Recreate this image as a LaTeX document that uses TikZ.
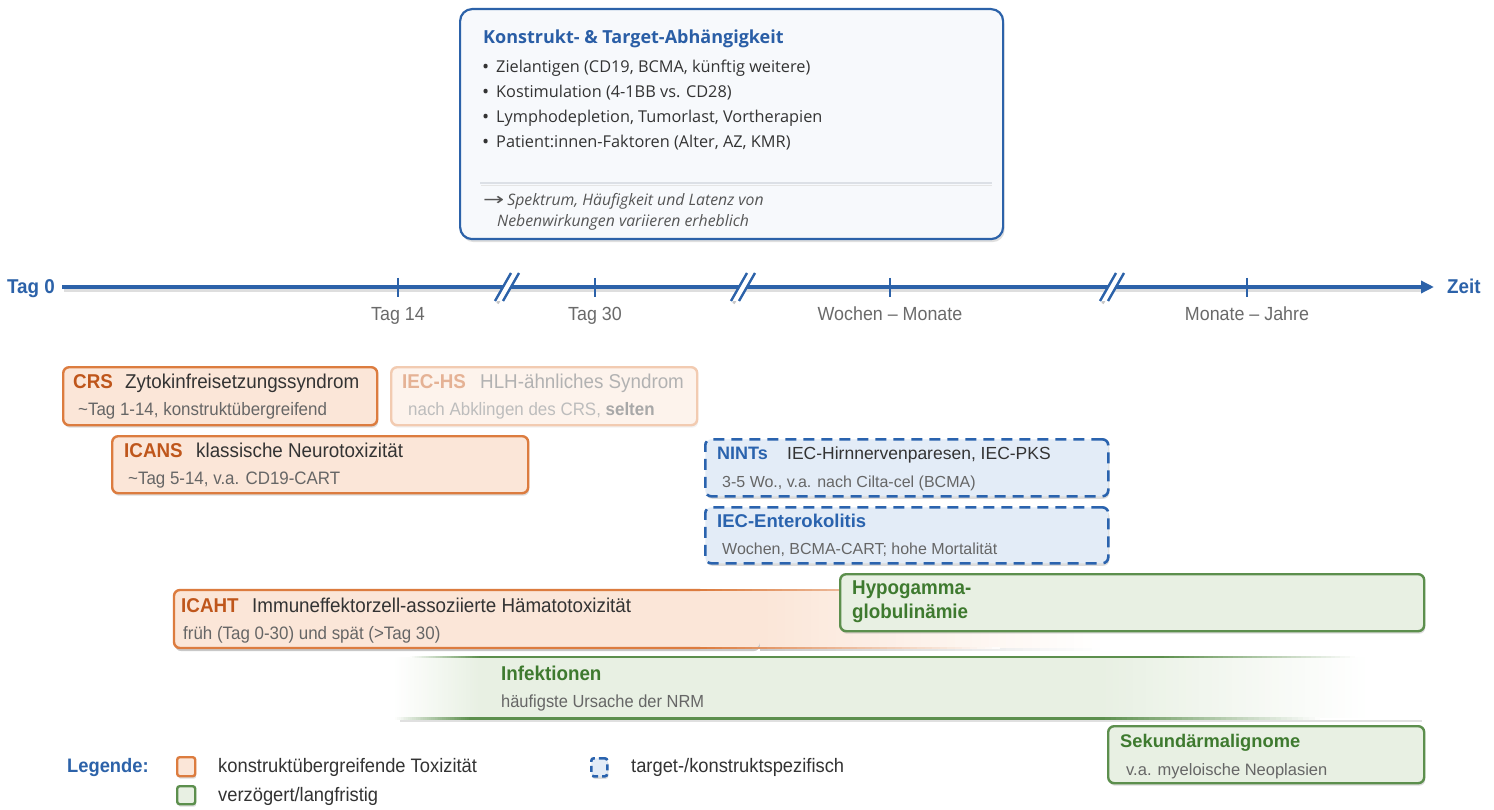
\documentclass[tikz,border=0pt]{standalone}
\usepackage{fontspec}
\setmainfont{Liberation Sans}
\newfontfamily\cond[FakeStretch=0.94]{Liberation Sans}
\newfontfamily\osans{Open Sans}
\newfontfamily\dejavu{DejaVu Sans}
\usetikzlibrary{shadows,arrows.meta}
\definecolor{tlblue}{HTML}{2C62A9}
\definecolor{ttlblue}{HTML}{2A5EA6}
\definecolor{topfill}{HTML}{F7F9FC}
\definecolor{sepgray}{HTML}{DCE0E6}
\definecolor{orbord}{HTML}{DC7C3F}
\definecolor{orfill}{HTML}{FBE6D8}
\definecolor{ortxt}{HTML}{BF561B}
\definecolor{grbord}{HTML}{5C8F4D}
\definecolor{grfill}{HTML}{E8F0E3}
\definecolor{grtxt}{HTML}{3E7A2F}
\definecolor{blbord}{HTML}{2A63AE}
\definecolor{blfill}{HTML}{E3ECF7}
\definecolor{dtxt}{HTML}{333333}
\definecolor{stxt}{HTML}{666666}
\definecolor{tltxt}{HTML}{6A6A6A}
\definecolor{itxt}{HTML}{555555}
\definecolor{hsbord}{HTML}{F2CBB1}
\definecolor{hsfill}{HTML}{FDF3EC}
\definecolor{hstitle}{HTML}{E5B295}
\definecolor{hstxt}{HTML}{B2B2B2}
\definecolor{hssub}{HTML}{BDBDBD}
\definecolor{hsbold}{HTML}{A8A8A8}
\definecolor{shgray}{HTML}{C8C8C8}
\newcommand\setfs[1]{\fontsize{#1}{#1}\selectfont}
% horizontal fade out: colour #1 at x=#2 to white at x=#3, between y=#4 and y=#5
\newcommand\hfadeout[5]{\foreach \k in {0,...,39}{%
  \pgfmathtruncatemacro\pc{100-2.5*\k}%
  \fill[#1!\pc!white] ({#2+(#3-#2)*\k/40},#4) rectangle ({#2+(#3-#2)*(\k+1)/40+0.4},#5);}}
% horizontal fade in: white at x=#2 to colour #1 at x=#3
\newcommand\hfadein[5]{\foreach \k in {0,...,39}{%
  \pgfmathtruncatemacro\pc{2.5*(\k+1)}%
  \fill[#1!\pc!white] ({#2+(#3-#2)*\k/40},#4) rectangle ({#2+(#3-#2)*(\k+1)/40+0.4},#5);}}
\begin{document}
\begin{tikzpicture}[x=1pt,y=-1pt,
  txt/.style={inner sep=0pt, anchor=base west},
  shd/.style={drop shadow={opacity=0.28, shadow xshift=1pt, shadow yshift=-2.5pt}},
  boxbase/.style={anchor=north west, inner sep=0pt, rounded corners=6pt},
  obox/.style={boxbase, shd, draw=orbord, fill=orfill, line width=2.4pt},
  gbox/.style={boxbase, shd, draw=grbord, fill=grfill, line width=2.4pt},
  bbox/.style={boxbase, shd, draw=blbord, fill=blfill, line width=2.6pt, dash pattern=on 11pt off 7pt},
  otitle/.style={txt, font=\cond\bfseries\setfs{20}, text=ortxt},
  omain/.style={txt, font=\cond\setfs{20}, text=dtxt},
  osub/.style={txt, font=\cond\setfs{18}, text=stxt},
  ktext/.style={txt, font=\osans\setfs{16.3}, text=dtxt},
  kbul/.style={txt, font=\osans\setfs{19}, text=dtxt},
  tick/.style={tlblue, line width=2pt},
  tlabel/.style={anchor=base, inner sep=0pt, font=\cond\setfs{19}, text=tltxt},
  legtxt/.style={txt, font=\cond\setfs{19.5}, text=dtxt}
]
\useasboundingbox (0,0) rectangle (1494,810);
\fill[white] (0,0) rectangle (1494,810);

% ---------- top box ----------
\node[boxbase, rounded corners=12pt, draw=tlblue, fill=topfill, line width=2.2pt,
      drop shadow={opacity=0.25, shadow xshift=1.5pt, shadow yshift=-3pt},
      minimum width=543pt, minimum height=230pt] (kbox) at (459,8) {};
\node[txt, font=\osans\bfseries\setfs{18}, text=ttlblue] (ktitle) at (483,44) {Konstrukt- \& Target-Abhängigkeit};
\node[kbul] (kb1) at (482,74) {•};
\node[ktext] (kt1) at (496,73) {Zielantigen (CD19, BCMA, künftig weitere)};
\node[kbul] (kb2) at (482,99) {•};
\node[ktext] (kt2) at (496,98) {Kostimulation (4-1BB vs. CD28)};
\node[kbul] (kb3) at (482,124) {•};
\node[ktext] (kt3) at (496,123) {Lymphodepletion, Tumorlast, Vortherapien};
\node[kbul] (kb4) at (482,149) {•};
\node[ktext] (kt4) at (496,148) {Patient:innen-Faktoren (Alter, AZ, KMR)};
\draw[black!10, line width=1.2pt] (481,185.8) -- (992,185.8);
\draw[sepgray, line width=2.5pt] (480,183) -- (992,183);
\node[txt, font=\osans\itshape\setfs{15.8}, text=itxt] (ki1) at (483,206) {\scalebox{1.6}[1.1]{\dejavu\upshape →}\kern3pt Spektrum, Häufigkeit und Latenz von};
\node[txt, font=\osans\itshape\setfs{15.8}, text=itxt] (ki2) at (497,227) {Nebenwirkungen variieren erheblich};

% ---------- timeline ----------
\node[anchor=base east, inner sep=0pt, font=\cond\bfseries\setfs{20}, text=tlblue] (tag0) at (55,294) {Tag 0};
\node[anchor=base west, inner sep=0pt, font=\cond\bfseries\setfs{20}, text=tlblue] (zeit) at (1447,294) {Zeit};
\coordinate (axstart) at (62,287);
\coordinate (axend) at (1434,287);
\draw[black!13, line width=3pt] (64,290.5) -- (1424,290.5);
\draw[tlblue, line width=4pt, -{Triangle[length=13pt,width=12pt]}] (axstart) -- (axend);
\draw[tick] (398,278) -- (398,297);
\draw[tick] (595,278) -- (595,297);
\draw[tick] (890,278) -- (890,297);
\draw[tick] (1247,278) -- (1247,297);
\foreach \cx in {507,743,1112}{
  \draw[black!22, line width=2.5pt] (\cx-9.5,303.5) -- (\cx+6.5,275.5);
  \fill[white] (\cx-12,301) -- (\cx+4,273) -- (\cx+12,273) -- (\cx-4,301) -- cycle;
  \draw[tlblue, line width=2.4pt] (\cx-12,301) -- (\cx+4,273);
  \draw[tlblue, line width=2.4pt] (\cx-4,301) -- (\cx+12,273);
}
\node[tlabel] (l14) at (398,320) {Tag 14};
\node[tlabel] (l30) at (595,320) {Tag 30};
\node[tlabel] (lwm) at (890,320) {Wochen – Monate};
\node[tlabel] (lmj) at (1247,320) {Monate – Jahre};

% ---------- CRS ----------
\node[obox, minimum width=314pt, minimum height=58pt] (crs) at (62,366) {};
\node[otitle] (crsA) at (73,388) {CRS};
\node[omain] (crsB) at (125,388) {Zytokinfreisetzungssyndrom};
\node[osub] (crsC) at (78,415) {\textasciitilde Tag 1-14, konstruktübergreifend};

% ---------- IEC-HS (faded) ----------
\node[boxbase, draw=hsbord, fill=hsfill, line width=2.4pt,
      drop shadow={opacity=0.1, shadow xshift=1pt, shadow yshift=-2.5pt},
      minimum width=306pt, minimum height=58pt] (iechs) at (390,366) {};
\node[txt, font=\cond\bfseries\setfs{20}, text=hstitle] (hsA) at (402,388) {IEC-HS};
\node[txt, font=\cond\setfs{20}, text=hstxt] (hsB) at (480,388) {HLH-ähnliches Syndrom};
\node[txt, font=\cond\setfs{18}, text=hssub] (hsC) at (408,415) {nach Abklingen des CRS, {\bfseries\color{hsbold}selten}};

% ---------- ICANS ----------
\node[obox, minimum width=416pt, minimum height=57pt] (icans) at (111,435) {};
\node[otitle] (icA) at (124,457) {ICANS};
\node[omain] (icB) at (196,457) {klassische Neurotoxizität};
\node[osub] (icC) at (128,484) {\textasciitilde Tag 5-14, v.a. CD19-CART};

% ---------- NINTs ----------
\node[bbox, minimum width=403pt, minimum height=57pt] (nints) at (704,438) {};
\node[txt, font=\bfseries\setfs{18}, text=blbord] (niA) at (717,459) {NINTs};
\node[txt, font=\setfs{17.5}, text=dtxt] (niB) at (787,459) {IEC-Hirnnervenparesen, IEC-PKS};
\node[txt, font=\setfs{16}, text=stxt] (niC) at (722,487) {3-5 Wo., v.a. nach Cilta-cel (BCMA)};

% ---------- IEC-Enterokolitis ----------
\node[bbox, minimum width=403pt, minimum height=56pt] (entero) at (704,506) {};
\node[txt, font=\bfseries\setfs{18.5}, text=blbord] (enA) at (717,527) {IEC-Enterokolitis};
\node[txt, font=\setfs{16}, text=stxt] (enC) at (722,554) {Wochen, BCMA-CART; hohe Mortalität};

% ---------- ICAHT (fading to the right) ----------
\coordinate (icaht) at (174,590);
\fill[shgray] (760,592.5) [rounded corners=6pt] -- (175,592.5) -- (175,651) -- (760,651) [sharp corners] -- cycle;
\hfadeout{shgray}{759.5}{1100}{645}{651}
\fill[orfill] (760,590) [rounded corners=6pt] -- (174,590) -- (174,648) -- (760,648) [sharp corners] -- cycle;
\hfadeout{orfill}{759.5}{1100}{590}{648}
\draw[orbord, line width=2.4pt] (700,590) [rounded corners=6pt] -- (174,590) -- (174,648) -- (700,648);
\hfadeout{orbord}{699.5}{1000}{588.8}{591.2}
\hfadeout{orbord}{699.5}{1000}{646.8}{649.2}
\node[otitle] (iaA) at (181,612) {ICAHT};
\node[omain] (iaB) at (252,612) {Immuneffektorzell-assoziierte Hämatotoxizität};
\node[osub] (iaC) at (183,639) {früh (Tag 0-30) und spät (>Tag 30)};

% ---------- Hypogammaglobulinämie ----------
\node[gbox, minimum width=584pt, minimum height=57pt] (hypo) at (839,573) {};
\node[txt, font=\cond\bfseries\setfs{20}, text=grtxt] (hyA) at (852,594) {Hypogamma-};
\node[txt, font=\cond\bfseries\setfs{20}, text=grtxt] (hyB) at (852,618) {globulinämie};

% ---------- Infektionen (fading both ends) ----------
\coordinate (infekt) at (395,657);
\fill[black!12] (400,720) rectangle (1422,722);
\hfadein{grfill}{395}{480.5}{657}{718}
\fill[grfill] (480,657) rectangle (1100,718);
\hfadeout{grfill}{1099.5}{1365}{657}{718}
\hfadein{grbord}{410}{480.5}{655.8}{658.2}
\fill[grbord] (480,655.8) rectangle (1160,658.2);
\hfadeout{grbord}{1159.5}{1355}{655.8}{658.2}
\hfadein{grbord}{395}{470.5}{716.5}{719.5}
\fill[grbord] (470,716.5) rectangle (1100,719.5);
\hfadeout{grbord}{1099.5}{1320}{716.5}{719.5}
\node[txt, font=\cond\bfseries\setfs{20}, text=grtxt] (inA) at (501,680) {Infektionen};
\node[txt, font=\cond\setfs{17.5}, text=stxt] (inC) at (501,707) {häufigste Ursache der NRM};

% ---------- Sekundärmalignome ----------
\node[gbox, minimum width=316pt, minimum height=57pt] (sek) at (1107,725) {};
\node[txt, font=\bfseries\setfs{18.3}, text=grtxt] (seA) at (1120,747) {Sekundärmalignome};
\node[txt, font=\setfs{16.5}, text=stxt] (seC) at (1126,775) {v.a. myeloische Neoplasien};

% ---------- legend ----------
\node[txt, font=\cond\bfseries\setfs{19.5}, text=tlblue] (leg) at (67,772) {Legende:};
\node[obox, rounded corners=2.5pt, minimum width=18pt, minimum height=19pt] (lego) at (176,756) {};
\node[legtxt] (legoT) at (218,772) {konstruktübergreifende Toxizität};
\node[gbox, rounded corners=2.5pt, minimum width=18pt, minimum height=18pt] (legg) at (176,785) {};
\node[legtxt] (leggT) at (218,801) {verzögert/langfristig};
\node[bbox, rounded corners=2.5pt, dash pattern=on 6pt off 4pt, minimum width=16pt, minimum height=18pt] (legb) at (590,757) {};
\node[legtxt] (legbT) at (631,772) {target-/konstruktspezifisch};
\end{tikzpicture}
\end{document}
